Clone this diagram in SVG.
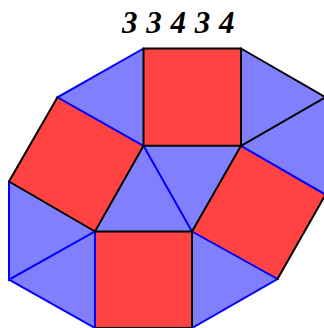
<svg xmlns="http://www.w3.org/2000/svg" width="324" height="328" viewBox="0 0 324 328">
<style>
.sq{fill:#ff4242;stroke:none}
.tr{fill:#8080ff;stroke:none}
.k{stroke:#000;stroke-width:2;stroke-linecap:round;fill:none}
.b{stroke:#0000ff;stroke-width:2;stroke-linecap:round;fill:none}
.lbl{font-family:"Liberation Serif","DejaVu Serif",serif;font-style:italic;font-weight:bold;font-size:31px;word-spacing:1px;fill:#000}
</style>
<rect width="324" height="328" fill="#fff"/>
<g id="tri-AGC"><polygon class="tr" points="143.5,48.5 57.5,97.3 143.5,145.8"/></g>
<g id="tri-BPD"><polygon class="tr" points="241,48.5 325.5,97.2 241,145.8"/></g>
<g id="tri-CDE"><polygon class="tr" points="143.5,145.8 241,145.8 192,231.5"/></g>
<g id="tri-CFE"><polygon class="tr" points="143.5,145.8 95,231.5 192,231.5"/></g>
<g id="tri-DPQ"><polygon class="tr" points="241,145.8 325.5,97.2 325.5,194.6"/></g>
<g id="tri-HJF"><polygon class="tr" points="9,181.5 9,279.7 95,231.5"/></g>
<g id="tri-JKF"><polygon class="tr" points="9,279.7 95,328 95,231.5"/></g>
<g id="tri-ERL"><polygon class="tr" points="192,231.5 277.5,279 192,328"/></g>
<g id="sq-top"><polygon class="sq" points="143.5,48.5 241,48.5 241,145.8 143.5,145.8"/></g>
<g id="sq-left"><polygon class="sq" points="143.5,145.8 57.5,97.3 9,181.5 95,231.5"/></g>
<g id="sq-right"><polygon class="sq" points="241,145.8 325.5,194.6 277.5,279 192,231.5"/></g>
<g id="sq-bottom"><polygon class="sq" points="95,231.5 192,231.5 192,328 95,328"/></g>
<g id="edges">
<path class="b" d="M143.5,48.5 L57.5,97.3 L143.5,145.8"/>
<path class="b" d="M143.5,145.8 L192,231.5"/>
<path class="b" d="M241,145.8 L325.5,194.6"/>
<path class="b" d="M192,231.5 L277.5,279 L192,328"/>
<path class="b" d="M9,181.5 L9,279.7 L95,231.5 L95,328 L9,279.7"/>
<path class="k" d="M143.5,48.5 L241,48.5 L241,145.8 L143.5,145.8 Z"/>
<path class="k" d="M241,48.5 L325.5,97.2 L241,145.8"/>
<path class="k" d="M57.5,97.3 L9,181.5 L95,231.5 L143.5,145.8"/>
<path class="k" d="M95,231.5 L192,231.5 L241,145.8"/>
<path class="k" d="M325.5,194.6 L277.5,279"/>
<path class="k" d="M192,231.5 L192,328 L95,328"/>
</g>
<text class="lbl" x="122" y="33">3 3 4 3 4</text>
</svg>
